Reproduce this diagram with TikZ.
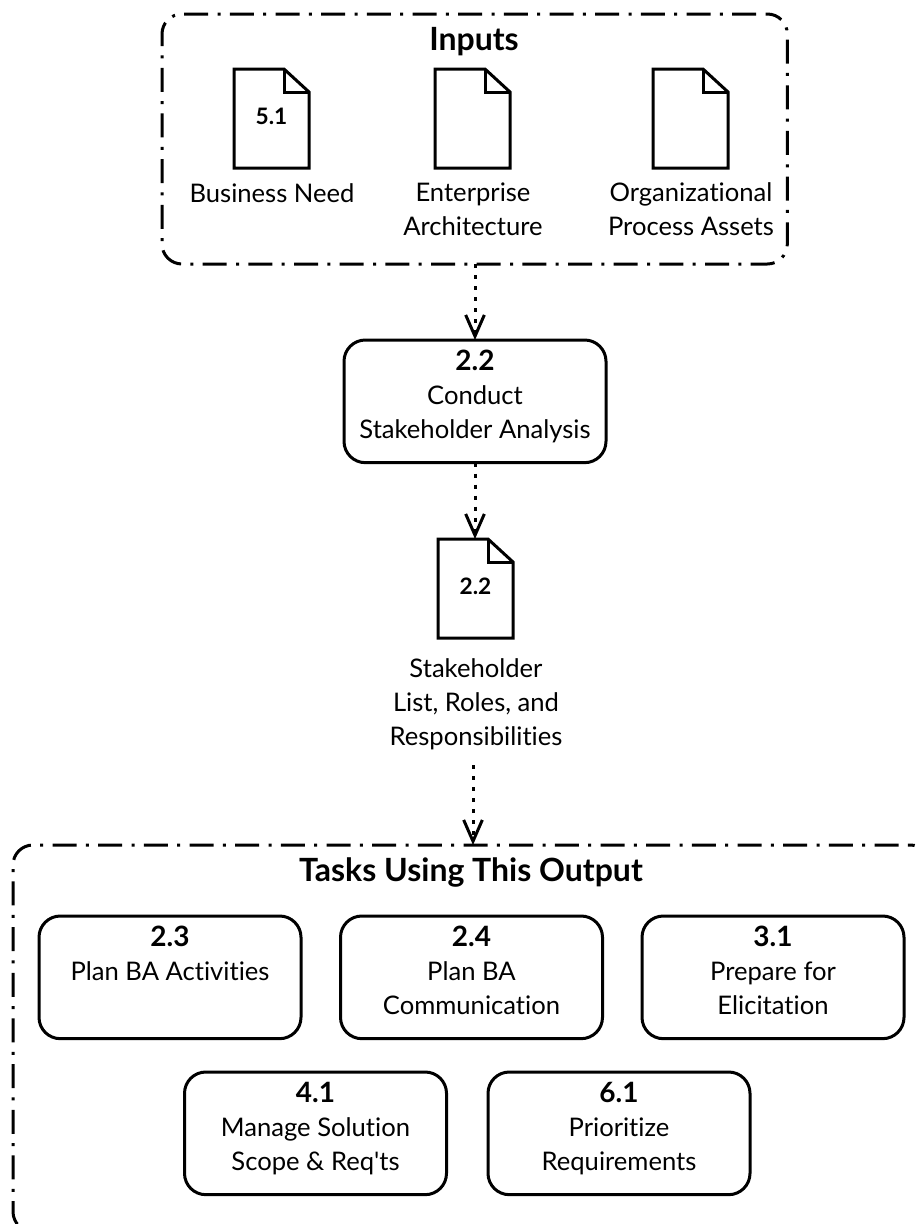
\documentclass[tikz,border=0pt]{standalone}
\usepackage{fontspec}
\setmainfont[Ligatures=NoCommon]{Lato}
\usetikzlibrary{positioning, arrows.meta}

\newcommand{\num}[1]{{\bfseries\fontsize{21}{25.5}\selectfont #1}\\}
\newcommand{\lift}{\rule[-11pt]{0pt}{11pt}}

\begin{document}
\begin{tikzpicture}[x=.75pt, y=-.75pt, line width=2.25pt, every node/.style={outer sep=0pt, font=\fontsize{19.2}{25.5}\selectfont}]

  \tikzstyle{frame}=[draw, rounded corners=15pt, dash pattern=on 18pt off 7pt on 2.25pt off 7pt, inner sep=0pt, anchor=north west]
  \tikzstyle{task}=[draw, rounded corners=16pt, align=center, anchor=north, minimum width=196.5pt, minimum height=92pt, inner sep=0pt]
  \tikzstyle{doc}=[minimum width=56.25pt, minimum height=74.25pt, inner sep=0pt, anchor=north west, font=\bfseries\fontsize{17}{20}\selectfont]
  \tikzstyle{label}=[align=center, anchor=north]
  \tikzstyle{head}=[font=\bfseries\fontsize{24}{28}\selectfont, anchor=base]
  \tikzstyle{flow}=[dash pattern=on 3pt off 5.25pt, -{Straight Barb[length=16pt, width=14pt, line width=2.25pt]}]

  \useasboundingbox (0,0) rectangle (919,1224);

  % frames
  \begin{scope}
    \clip (0,0) rectangle (919,1224);
    \node [frame, dash phase=25.9pt, minimum width=469pt, minimum height=187.5pt] (inputs) at (162,14) {};
    \node [frame, dash phase=25.4pt, minimum width=688pt, minimum height=290pt] (tasks) at (13,845) {};
  \end{scope}
  \node [head] (inputs-title) at (474,50) {Inputs};
  \node [head] (tasks-title) at (471,881) {Tasks Using This Output};

  % documents
  \foreach \name/\x/\y/\tag in {need/234/69/5.1, arch/435/69/{}, assets/653/69/{}, list/438/539/2.2} {
    \node [doc] (\name) at (\x,\y) {\raisebox{4pt}{\tag}};
    \draw [line join=miter] (\name.south west) -- (\name.north west) -- ([xshift=-18.75pt]\name.north east) -- ([yshift=-17.25pt]\name.north east) -- (\name.south east) -- cycle;
    \draw [line join=miter] ([xshift=-18.75pt]\name.north east) |- ([yshift=-17.25pt]\name.north east);
  }
  \node [label] (need-text) at (272,179.5) {Business Need};
  \node [label] (arch-text) at (473,178.5) {Enterprise\\Architecture};
  \node [label] (assets-text) at (691,178.5) {Organizational\\Process Assets};
  \node [label] (list-text) at (476,654.5) {Stakeholder\\List, Roles, and\\Responsibilities};

  % tasks
  \node [task] (conduct) at (475,340) {\num{2.2}Conduct\\Stakeholder Analysis\lift};
  \node [task] (plan) at (170,916) {\num{2.3}Plan BA Activities\\~\lift};
  \node [task] (comm) at (471.5,916) {\num{2.4}Plan BA\\Communication\lift};
  \node [task] (elicit) at (773,916) {\num{3.1}Prepare for\\Elicitation\lift};
  \node [task] (scope) at (315.5,1072) {\num{4.1}Manage Solution\\Scope \& Req\textquotesingle ts\lift};
  \node [task] (prior) at (619,1072) {\num{6.1}Prioritize\\Requirements\lift};

  % connectors
  \coordinate (free) at (473,765);
  \draw [flow] (inputs.south -| conduct) -- (conduct.north);
  \draw [flow] (conduct.south) -- (conduct.south |- list.north);
  \draw [flow] (free) -- (free |- tasks.north);
\end{tikzpicture}
\end{document}
